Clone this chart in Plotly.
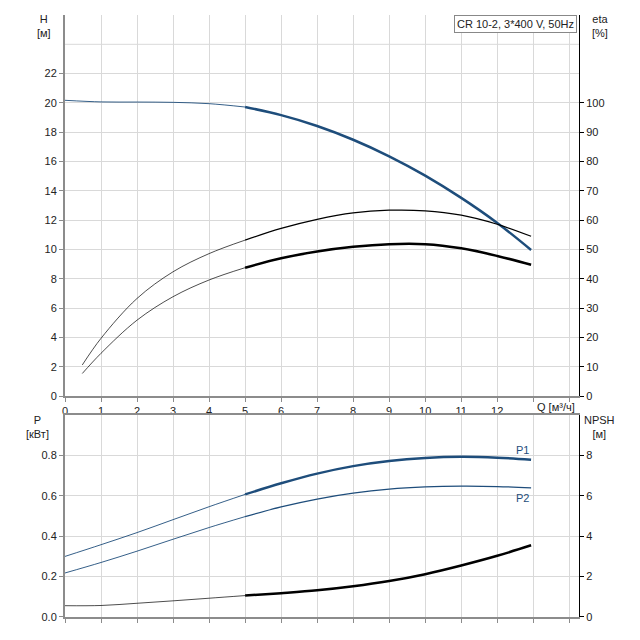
import plotly.graph_objects as go

# ---------------- data ----------------
q_h = [0, 1, 2, 3, 4, 5, 6, 7, 8, 9, 10, 11, 12, 12.94]
head = [20.18, 20.07, 20.06, 20.04, 19.95, 19.72, 19.17, 18.43, 17.49, 16.36, 15.04, 13.52, 11.81, 9.97]

q_eta = [0.48, 1, 2, 3, 4, 5, 6, 7, 8, 9, 10, 11, 12, 12.94]
eta_pump = [10.6, 19.7, 33.3, 42.4, 48.6, 53.2, 57.2, 60.3, 62.5, 63.4, 63.2, 61.7, 58.6, 54.5]
eta_total = [7.7, 14.6, 25.9, 33.9, 39.6, 43.8, 47.0, 49.3, 50.9, 51.8, 51.8, 50.4, 47.8, 44.8]

q_p = [0, 1, 2, 3, 4, 5, 6, 7, 8, 9, 10, 11, 12, 12.94]
p1 = [0.300, 0.358, 0.418, 0.482, 0.546, 0.607, 0.662, 0.710, 0.747, 0.772, 0.787, 0.793, 0.789, 0.779]
p2 = [0.218, 0.270, 0.326, 0.385, 0.443, 0.497, 0.545, 0.584, 0.613, 0.633, 0.644, 0.648, 0.646, 0.639]
npsh = [0.56, 0.57, 0.68, 0.80, 0.93, 1.06, 1.18, 1.32, 1.52, 1.78, 2.12, 2.55, 3.03, 3.55]

x_ticks = list(range(0, 15))
x_ticktext = [str(v) for v in range(0, 13)] + ["", ""]
h_ticks = list(range(0, 23, 2))
eta_ticks = list(range(0, 101, 10))
p_ticks = [0.0, 0.2, 0.4, 0.6, 0.8]
p_ticktext = ["0.0", "0.2", "0.4", "0.6", "0.8"]
npsh_ticks = [0, 2, 4, 6, 8]

title_text = "CR 10-2, 3*400 V, 50Hz"
Q_SPLIT = 5

BLUE = "#1e4d7b"
GRID = "#d9d9d9"
AXG = "#8c8c8c"
FONT = "Liberation Sans, Arial, sans-serif"


def split(xs, ys, lo=True):
    if lo:
        pts = [(x, y) for x, y in zip(xs, ys) if x <= Q_SPLIT]
    else:
        pts = [(x, y) for x, y in zip(xs, ys) if x >= Q_SPLIT]
    return [p[0] for p in pts], [p[1] for p in pts]


fig = go.Figure()


def add(xs, ys, xa, ya, color, w_thin, w_thick):
    for lo, w in ((True, w_thin), (False, w_thick)):
        sx, sy = split(xs, ys, lo)
        fig.add_trace(go.Scatter(x=sx, y=sy, xaxis=xa, yaxis=ya, mode="lines",
                                 line=dict(color=color, width=w, shape="spline", smoothing=1.0),
                                 showlegend=False, hoverinfo="skip"))


add(q_h, head, "x", "y", BLUE, 0.9, 2.5)
add(q_eta, eta_pump, "x", "y2", "#000000", 0.7, 1.2)
add(q_eta, eta_total, "x", "y2", "#000000", 0.7, 2.5)
add(q_p, p1, "x2", "y3", BLUE, 0.9, 2.5)
add(q_p, p2, "x2", "y3", BLUE, 0.9, 1.2)
add(q_p, npsh, "x2", "y4", "#000000", 0.7, 2.5)

XR = [0, 14.27]
common_x = dict(range=XR, tickvals=x_ticks, showgrid=True, gridcolor=GRID, gridwidth=1,
                zeroline=False, showline=True, linecolor=AXG, linewidth=2,
                ticks="outside", ticklen=4, tickcolor=AXG,
                tickfont=dict(size=11, color="#222"))

fig.update_layout(
    width=640, height=640,
    margin=dict(l=65, r=61, t=15, b=23),
    paper_bgcolor="white", plot_bgcolor="white",
    font=dict(family=FONT, size=11, color="#222"),
    xaxis=dict(**common_x, ticktext=x_ticktext, anchor="y", domain=[0, 1]),
    yaxis=dict(domain=[0.367, 1], range=[0, 26], tickvals=h_ticks, showgrid=True,
               gridcolor=GRID, zeroline=False, showline=True, linecolor=AXG, linewidth=2,
               ticks="outside", ticklen=4, tickcolor=AXG, anchor="x",
               tickfont=dict(size=11, color="#222")),
    yaxis2=dict(overlaying="y", side="right", range=[0, 130], tickvals=eta_ticks,
                showgrid=False, zeroline=False, showline=True, linecolor="#000", linewidth=1,
                ticks="outside", ticklen=4, tickcolor="#000", anchor="x",
                tickfont=dict(size=11, color="#222")),
    xaxis2=dict(**common_x, showticklabels=False, anchor="y3", domain=[0, 1], mirror=True),
    yaxis3=dict(domain=[0, 0.3355], range=[0, 1.0], tickvals=p_ticks, ticktext=p_ticktext,
                showgrid=True, gridcolor=GRID, zeroline=False, showline=True, linecolor=AXG,
                linewidth=2, ticks="outside", ticklen=4, tickcolor=AXG, anchor="x2",
                tickfont=dict(size=11, color="#222")),
    yaxis4=dict(overlaying="y3", side="right", range=[0, 10], tickvals=npsh_ticks,
                showgrid=False, zeroline=False, showline=True, linecolor="#000", linewidth=1,
                ticks="outside", ticklen=4, tickcolor="#000", anchor="x2",
                tickfont=dict(size=11, color="#222")),
)

# extra unlabeled gridline at H=24
fig.add_shape(type="line", xref="x", yref="y", x0=XR[0], x1=XR[1], y0=24, y1=24,
              line=dict(color=GRID, width=1), layer="below")

ann = []
ann.append(dict(text="H<br>[м]", xref="paper", yref="paper", x=-0.041, y=1.006,
                xanchor="center", yanchor="top", showarrow=False, font=dict(size=11)))
ann.append(dict(text="eta<br>[%]", xref="paper", yref="paper", x=1.04, y=1.006,
                xanchor="center", yanchor="top", showarrow=False, font=dict(size=11)))
ann.append(dict(text="P<br>[кВт]", xref="paper", yref="paper", x=-0.053, y=0.34,
                xanchor="center", yanchor="top", showarrow=False, font=dict(size=11)))
ann.append(dict(text="NPSH<br>[м]", xref="paper", yref="paper", x=1.04, y=0.34,
                xanchor="center", yanchor="top", showarrow=False, font=dict(size=11)))
ann.append(dict(text="Q [м³/ч]", xref="x", yref="paper", x=13.63, y=0.349,
                xanchor="center", yanchor="middle", showarrow=False, font=dict(size=11)))
ann.append(dict(text=title_text, xref="paper", yref="paper", x=0.997, y=1.0,
                xanchor="right", yanchor="top", showarrow=False, font=dict(size=11, color="#222"),
                bgcolor="white", bordercolor="#888", borderwidth=1, borderpad=2))
ann.append(dict(text="P1", xref="x2", yref="y3", x=q_p[-1], y=p1[-1] + 0.01,
                xanchor="right", yanchor="bottom", showarrow=False, font=dict(size=11, color=BLUE)))
ann.append(dict(text="P2", xref="x2", yref="y3", x=q_p[-1], y=p2[-1] - 0.01,
                xanchor="right", yanchor="top", showarrow=False, font=dict(size=11, color=BLUE)))
fig.update_layout(annotations=ann)

fig.write_html("out.html")
